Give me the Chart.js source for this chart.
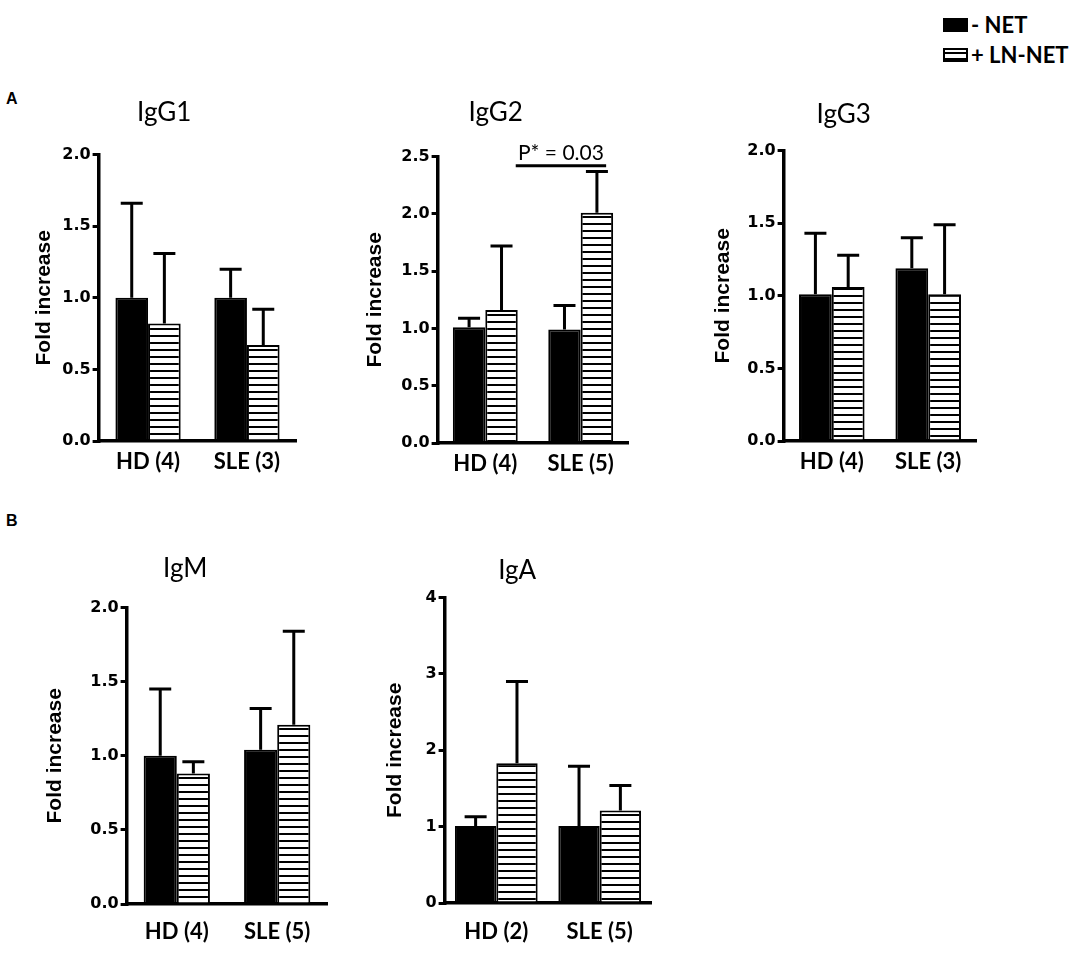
<!DOCTYPE html>
<html>
<head>
<meta charset="utf-8">
<script src="https://cdn.jsdelivr.net/npm/chart.js@4.4.1/dist/chart.umd.min.js"></script>
<style>
  body { margin: 0; background: #fff; width: 1084px; height: 959px; position: relative; overflow: hidden; }
  canvas { position: absolute; }
  .panel { position: absolute; font: bold 16px "Liberation Sans", Arial, sans-serif; }
  .legend { position: absolute; left: 943px; font: bold 22px Lato, sans-serif; line-height: 26px; }
  .legend div { position: relative; height: 30px; }
  .sw { position: absolute; left: 0; top: 6px; width: 21px; height: 10px; border: 2px solid #000; }
  .sw.solid { background: #000; }
  .sw.hatch { background: repeating-linear-gradient(to bottom, #fff 0 2px, #000 2px 4px, #fff 4px 6px); }
  .legend span { position: absolute; left: 28px; top: 0; white-space: nowrap; }
</style>
</head>
<body>
<div class="panel" style="left:6px;top:90px">A</div>
<div class="panel" style="left:6px;top:512px">B</div>
<div class="legend" style="top:12px">
  <div><i class="sw solid"></i><span>- NET</span></div>
  <div><i class="sw hatch"></i><span>+ LN-NET</span></div>
</div>
<canvas id="igg1"></canvas>
<canvas id="igg2"></canvas>
<canvas id="igg3"></canvas>
<canvas id="igm"></canvas>
<canvas id="iga"></canvas>
<script>
// values (bar height and top of the error bar)
const categoriesIgG1 = ["HD (4)", "SLE (3)"];
const netIgG1 = [1.0, 1.0];
const netErrIgG1 = [1.66, 1.20];
const lnNetIgG1 = [0.82, 0.67];
const lnNetErrIgG1 = [1.31, 0.92];

const categoriesIgG2 = ["HD (4)", "SLE (5)"];
const netIgG2 = [1.01, 0.99];
const netErrIgG2 = [1.09, 1.20];
const lnNetIgG2 = [1.16, 2.01];
const lnNetErrIgG2 = [1.72, 2.37];
const pTextIgG2 = "P* = 0.03";
const pLevelIgG2 = 2.42;

const categoriesIgG3 = ["HD (4)", "SLE (3)"];
const netIgG3 = [1.01, 1.19];
const netErrIgG3 = [1.43, 1.40];
const lnNetIgG3 = [1.06, 1.01];
const lnNetErrIgG3 = [1.28, 1.49];

const categoriesIgM = ["HD (4)", "SLE (5)"];
const netIgM = [1.0, 1.04];
const netErrIgM = [1.45, 1.32];
const lnNetIgM = [0.88, 1.21];
const lnNetErrIgM = [0.96, 1.84];

const categoriesIgA = ["HD (2)", "SLE (5)"];
const netIgA = [1.01, 1.01];
const netErrIgA = [1.13, 1.79];
const lnNetIgA = [1.83, 1.21];
const lnNetErrIgA = [2.90, 1.54];

const seriesNames = ["- NET", "+ LN-NET"];
const yAxisTitle = "Fold increase";

// horizontal stripes for the LN-NET bars
function stripes() {
  const c = document.createElement("canvas");
  c.width = 8; c.height = 7;
  const g = c.getContext("2d");
  g.fillStyle = "#fff"; g.fillRect(0, 0, 8, 7);
  g.fillStyle = "#000"; g.fillRect(0, 0, 8, 2);
  return g.createPattern(c, "repeat");
}

// one-sided (upper) error bars
const errorBars = {
  id: "errorBars",
  afterDatasetsDraw(chart) {
    const ctx = chart.ctx, y = chart.scales.y;
    chart.data.datasets.forEach((ds, i) => {
      chart.getDatasetMeta(i).data.forEach((bar, j) => {
        const top = y.getPixelForValue(ds.errTop[j]);
        ctx.save();
        ctx.strokeStyle = "#000";
        ctx.lineWidth = 3;
        ctx.beginPath();
        ctx.moveTo(bar.x, bar.y);
        ctx.lineTo(bar.x, top);
        ctx.moveTo(bar.x - 11, top);
        ctx.lineTo(bar.x + 11, top);
        ctx.stroke();
        ctx.restore();
      });
    });
  }
};

// significance line + label
const pValue = {
  id: "pValue",
  afterDraw(chart, args, opts) {
    if (!opts.text) return;
    const ctx = chart.ctx;
    const bars = chart.getDatasetMeta(1).data;
    const x0 = bars[0].x + bars[0].width / 2 - 2;
    const x1 = bars[1].x + bars[1].width / 2 - 7;
    const y = chart.scales.y.getPixelForValue(opts.level);
    ctx.save();
    ctx.strokeStyle = "#000";
    ctx.lineWidth = 3;
    ctx.beginPath();
    ctx.moveTo(x0, y);
    ctx.lineTo(x1, y);
    ctx.stroke();
    ctx.fillStyle = "#000";
    ctx.font = "21px Lato";
    ctx.textAlign = "center";
    ctx.textBaseline = "alphabetic";
    ctx.fillText(opts.text, (x0 + x1) / 2, y - 6);
    ctx.restore();
  }
};

function drawPanel(id, title, labels, net, netErr, lnNet, lnNetErr, yMax, yStep, decimals, box, p) {
  const canvas = document.getElementById(id);
  const left = box.yTitleX - 12.6;
  const top = box.titleY - 15.6;
  const right = 2 * box.titleX - left;
  const height = box.areaB + 48 - top;
  canvas.width = Math.round(right - left);
  canvas.height = Math.round(height);
  canvas.style.left = left + "px";
  canvas.style.top = top + "px";

  new Chart(canvas, {
    type: "bar",
    data: {
      labels,
      datasets: [
        { label: seriesNames[0], data: net, errTop: netErr,
          backgroundColor: "#000", borderColor: "#000", borderWidth: 2 },
        { label: seriesNames[1], data: lnNet, errTop: lnNetErr,
          backgroundColor: stripes(), borderColor: "#000", borderWidth: 2 }
      ]
    },
    options: {
      responsive: false,
      animation: false,
      layout: { padding: { left: 0, top: 0, right: right - box.areaR, bottom: 0 } },
      categoryPercentage: box.catPct,
      barPercentage: 1.0,
      plugins: {
        legend: { display: false },
        tooltip: { enabled: false },
        title: {
          display: true,
          text: title,
          color: "#000",
          font: { family: "Lato", size: 26, weight: "normal" },
          padding: { top: 0, bottom: box.areaT - top - 31.2 }
        },
        pValue: p || {}
      },
      scales: {
        x: {
          grid: { display: false, drawTicks: false, tickLength: 0 },
          border: { display: true, color: "#000", width: 3.5 },
          ticks: {
            color: "#000",
            padding: box.xPad,
            font: { family: "Lato", size: 22, weight: "bold" }
          },
          afterFit: (s) => { s.height = 48; }
        },
        y: {
          min: 0,
          max: yMax,
          grid: { display: true, drawOnChartArea: false, drawTicks: true, tickLength: 6, color: "#000", lineWidth: 3 },
          border: { display: true, color: "#000", width: 3.5 },
          ticks: {
            stepSize: yStep,
            padding: 2,
            color: "#000",
            font: { family: "DejaVu Sans", size: 16, weight: "bold" },
            callback: (v) => Number(v).toFixed(decimals)
          },
          title: {
            display: true,
            text: yAxisTitle,
            color: "#000",
            padding: 0,
            font: { family: "Liberation Sans", size: 21, weight: "bold" }
          },
          afterFit: (s) => { s.width = box.areaL - left; }
        }
      }
    },
    plugins: [errorBars, pValue]
  });
}

drawPanel("igg1", "IgG1", categoriesIgG1, netIgG1, netErrIgG1, lnNetIgG1, lnNetErrIgG1, 2.0, 0.5, 1,
  { areaL: 99, areaT: 155, areaR: 297, areaB: 441, titleX: 192, titleY: 113, yTitleX: 45, catPct: 0.66, xPad: 8 });
drawPanel("igg2", "IgG2", categoriesIgG2, netIgG2, netErrIgG2, lnNetIgG2, lnNetErrIgG2, 2.5, 0.5, 1,
  { areaL: 438, areaT: 157, areaR: 629, areaB: 443, titleX: 530, titleY: 113, yTitleX: 376, catPct: 0.68, xPad: 8 },
  { text: pTextIgG2, level: pLevelIgG2 });
drawPanel("igg3", "IgG3", categoriesIgG3, netIgG3, netErrIgG3, lnNetIgG3, lnNetErrIgG3, 2.0, 0.5, 1,
  { areaL: 784, areaT: 151, areaR: 977, areaB: 441, titleX: 868, titleY: 115, yTitleX: 724, catPct: 0.68, xPad: 8 });
drawPanel("igm", "IgM", categoriesIgM, netIgM, netErrIgM, lnNetIgM, lnNetErrIgM, 2.0, 0.5, 1,
  { areaL: 127, areaT: 608, areaR: 328, areaB: 904, titleX: 193, titleY: 569, yTitleX: 56, catPct: 0.66, xPad: 15 });
drawPanel("iga", "IgA", categoriesIgA, netIgA, netErrIgA, lnNetIgA, lnNetErrIgA, 4, 1, 0,
  { areaL: 445, areaT: 598, areaR: 652, areaB: 903, titleX: 545, titleY: 571, yTitleX: 396, catPct: 0.8, xPad: 16 });
</script>
</body>
</html>
